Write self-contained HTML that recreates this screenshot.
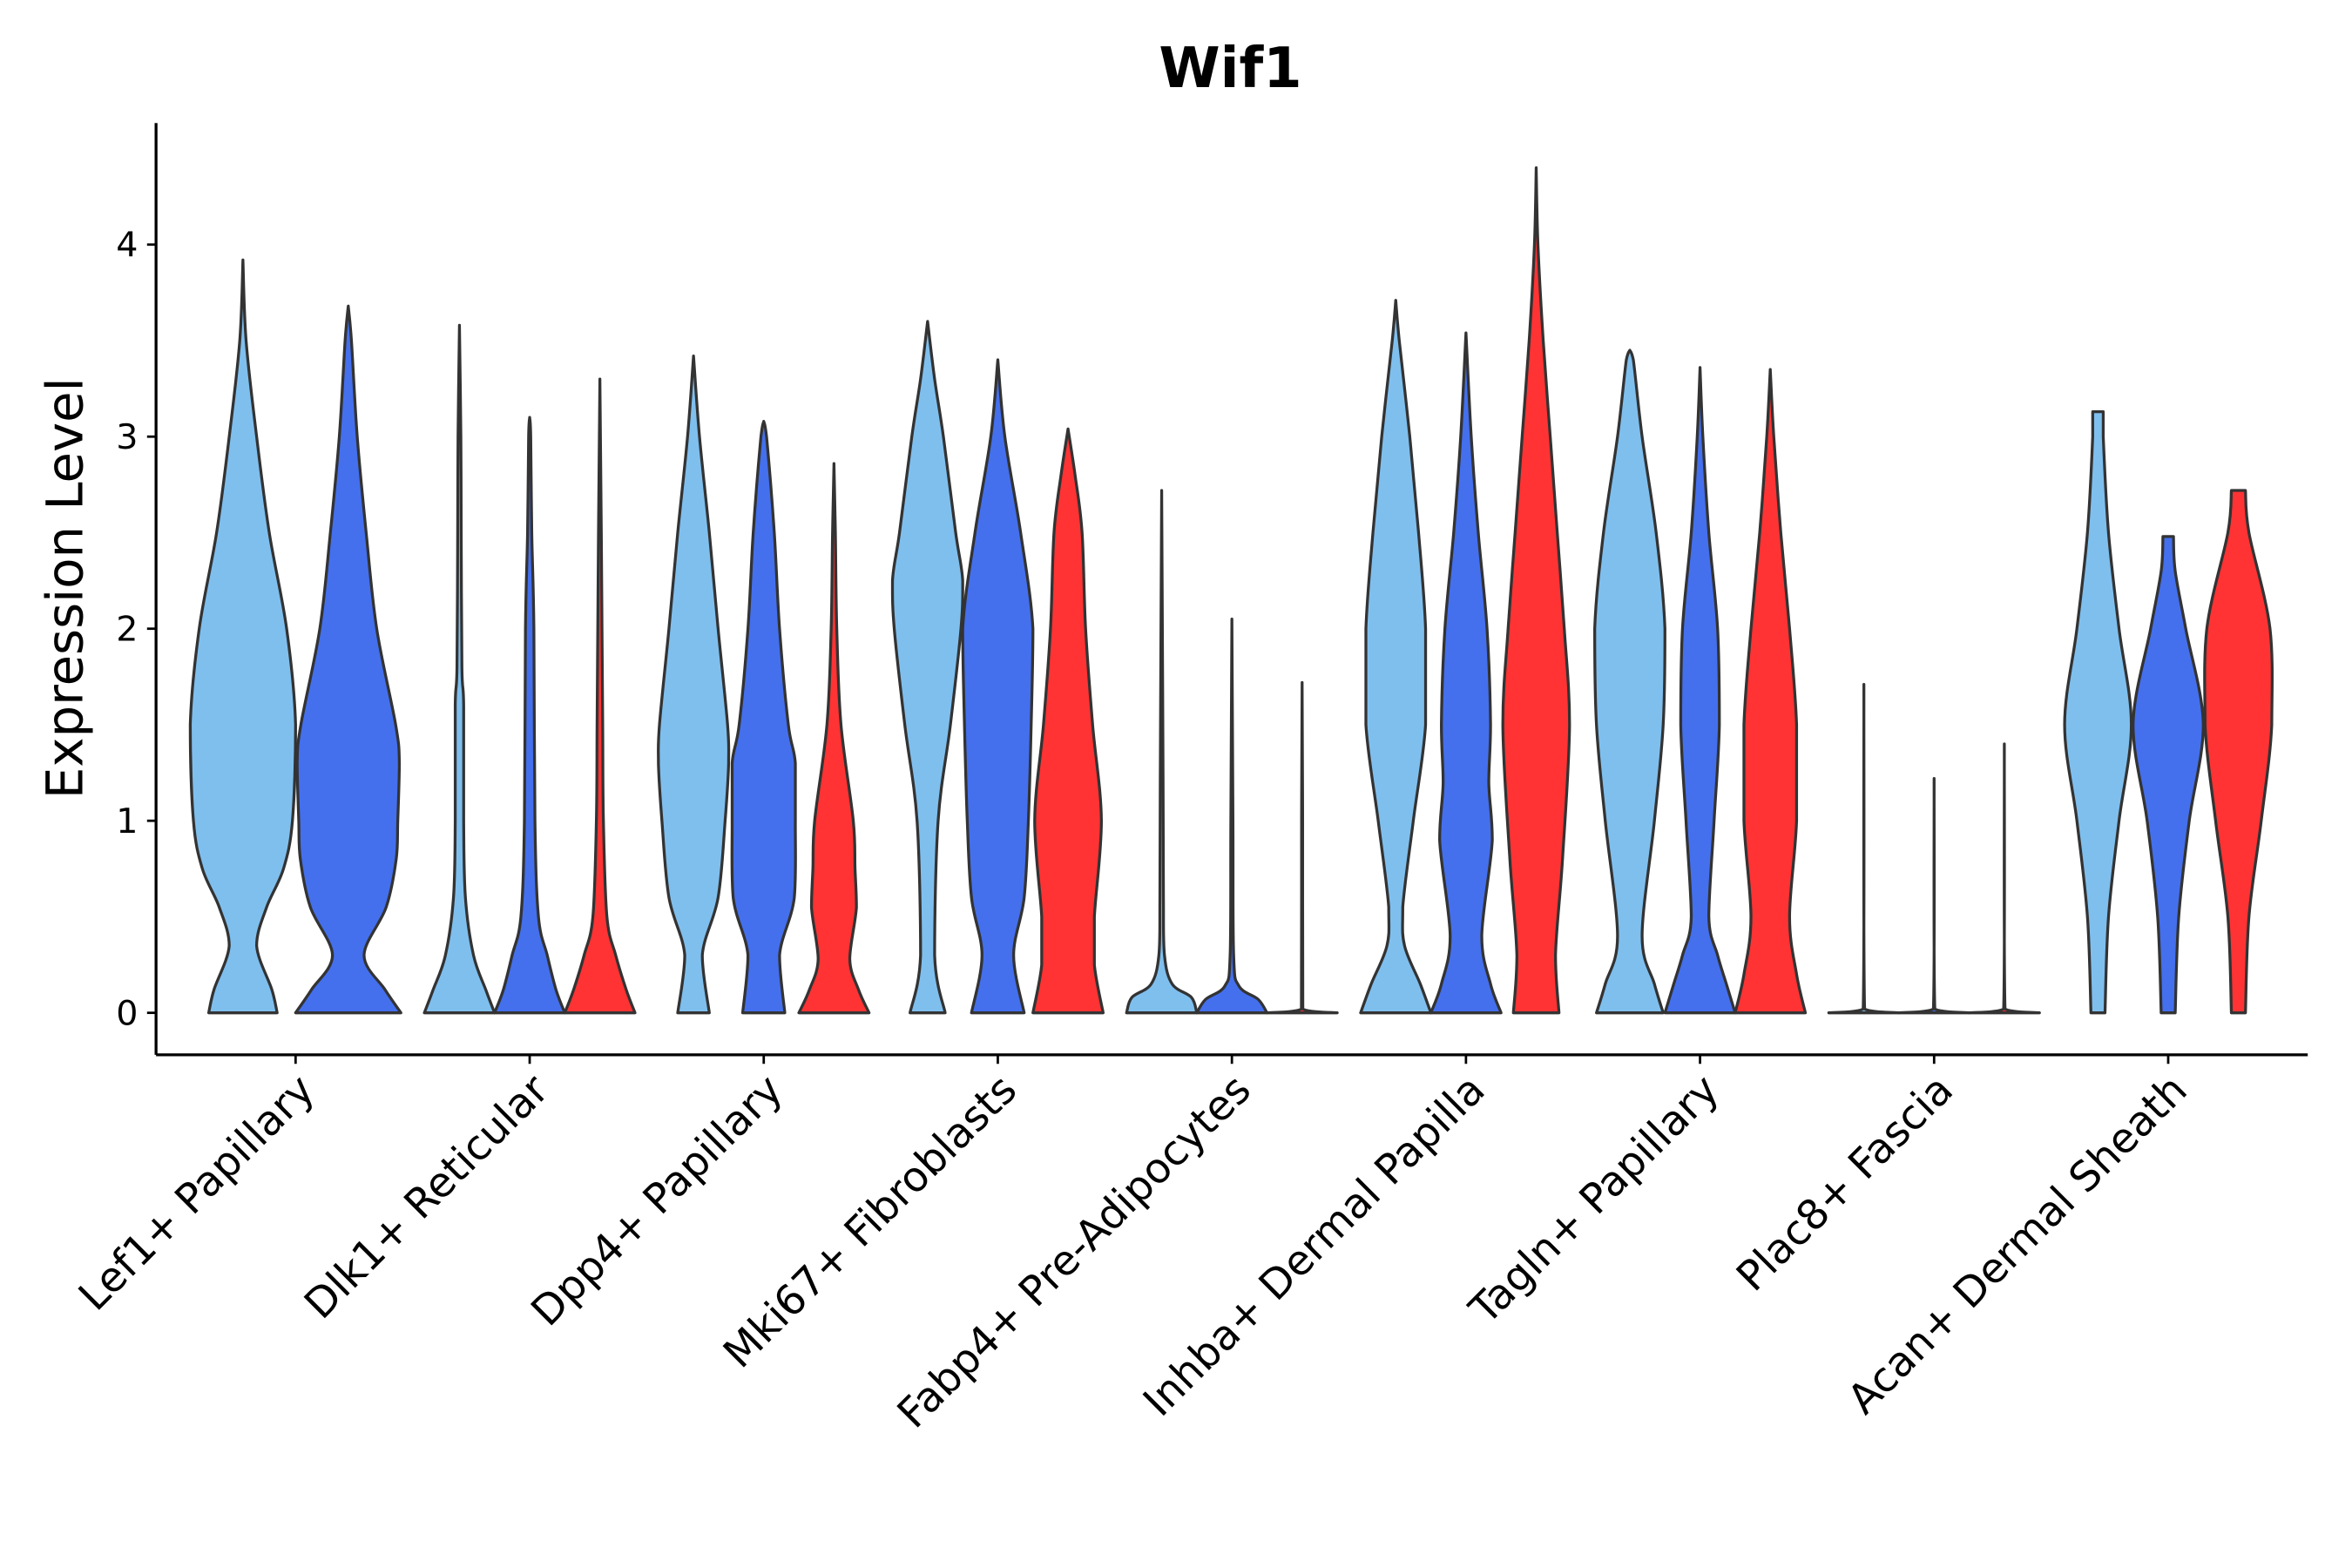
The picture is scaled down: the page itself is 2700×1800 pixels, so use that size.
<!DOCTYPE html>
<html><head><meta charset="utf-8">
<style>
html,body{margin:0;padding:0;background:#fff;}
svg{display:block;}
text{font-family:"DejaVu Sans","Liberation Sans",sans-serif;fill:#000;}
</style></head>
<body>
<svg id="chart" width="2700" height="1800" viewBox="0 0 1567.5 1045" xmlns="http://www.w3.org/2000/svg">
<text x="820" y="58" text-anchor="middle" font-size="37" font-weight="bold">Wif1</text>
<text transform="translate(55,392) rotate(-90)" text-anchor="middle" font-size="33.5">Expression Level</text>
<g id="plot"></g>
</svg>
<script>
const categories = ["Lef1+ Papillary","Dlk1+ Reticular","Dpp4+ Papillary","Mki67+ Fibroblasts","Fabp4+ Pre-Adipocytes","Inhba+ Dermal Papilla","Tagln+ Papillary","Plac8+ Fascia","Acan+ Dermal Sheath"];
const seriesNames = ["light","blue","red"];
const seriesColors = ["#7FBFEE","#4470EE","#FF3333"];
const yTicks = [0,1,2,3,4];
// profiles: [value, relative half-width]
const lef1Light = [[0,0.65],[0.12,0.55],[0.35,0.26],[0.55,0.45],[0.75,0.77],[1,0.94],[1.5,1.0],[2,0.83],[2.5,0.5],[3,0.26],[3.5,0.06],[3.92,0]];
const lef1Blue = [[0,1.0],[0.12,0.7],[0.3,0.3],[0.55,0.72],[0.8,0.91],[1.0,0.94],[1.3,0.97],[1.5,0.9],[2,0.54],[2.5,0.34],[3,0.17],[3.5,0.06],[3.68,0]];
const dlk1Light = [[0,1.0],[0.12,0.75],[0.3,0.4],[0.6,0.17],[1,0.12],[1.6,0.12],[1.8,0.07],[2.5,0.05],[3,0.04],[3.58,0]];
const dlk1Blue = [[0,1.0],[0.12,0.75],[0.3,0.5],[0.5,0.25],[1,0.15],[2,0.12],[2.5,0.06],[3,0.03],[3.1,0]];
const dlk1Red = [[0,1.0],[0.12,0.75],[0.3,0.45],[0.5,0.2],[1,0.1],[1.5,0.08],[2,0.06],[2.5,0.04],[3.3,0]];
const dpp4Light = [[0,0.45],[0.3,0.25],[0.6,0.7],[1,0.9],[1.3,1.0],[1.5,0.97],[2,0.7],[2.5,0.45],[3,0.17],[3.42,0]];
const dpp4Blue = [[0,0.6],[0.3,0.45],[0.6,0.87],[1,0.9],[1.3,0.9],[1.5,0.7],[2,0.45],[2.5,0.3],[3,0.08],[3.08,0]];
const dpp4Red = [[0,1.0],[0.12,0.7],[0.28,0.45],[0.55,0.64],[0.75,0.6],[1,0.55],[1.5,0.2],[2,0.08],[2.5,0.04],[2.86,0]];
const mki67Light = [[0,0.5],[0.3,0.2],[1,0.3],[1.5,0.65],[2,0.95],[2.25,1.0],[2.5,0.8],[3,0.45],[3.3,0.2],[3.6,0]];
const mki67Blue = [[0,0.75],[0.3,0.45],[0.6,0.75],[1,0.87],[1.5,0.95],[2,1.0],[2.5,0.65],[3,0.2],[3.4,0]];
const mki67Red = [[0,1.0],[0.25,0.75],[0.5,0.75],[1,0.95],[1.5,0.7],[2,0.5],[2.5,0.4],[2.8,0.2],[3.04,0]];
const fabp4Light = [[0,1.0],[0.08,0.85],[0.15,0.3],[0.3,0.08],[0.6,0.05],[1.2,0.04],[2,0.02],[2.72,0]];
const fabp4Blue = [[0,1.0],[0.07,0.75],[0.14,0.2],[0.3,0.05],[1,0.03],[2.05,0]];
const fabp4Red = [[0,1.0],[0.02,0.02],[1.0,0.015],[1.72,0]];
const inhbaLight = [[0,1.0],[0.15,0.7],[0.35,0.25],[0.55,0.2],[1,0.5],[1.5,0.85],[2,0.85],[2.5,0.65],[3,0.4],[3.5,0.1],[3.71,0]];
const inhbaBlue = [[0,1.0],[0.15,0.7],[0.4,0.45],[0.9,0.75],[1.2,0.65],[1.5,0.7],[2,0.6],[2.5,0.35],[3,0.15],[3.54,0]];
const inhbaRed = [[0,0.65],[0.3,0.55],[0.8,0.75],[1.5,0.95],[2,0.8],[2.5,0.6],[3,0.4],[3.5,0.2],[4,0.05],[4.4,0]];
const taglnLight = [[0,0.95],[0.15,0.7],[0.4,0.35],[1,0.7],[1.5,0.95],[2,1.0],[2.5,0.75],[3,0.35],[3.4,0.1],[3.45,0]];
const taglnBlue = [[0,1.0],[0.15,0.75],[0.3,0.5],[0.5,0.25],[1,0.4],[1.5,0.55],[2,0.5],[2.5,0.25],[3,0.08],[3.36,0]];
const taglnRed = [[0,1.0],[0.2,0.75],[0.5,0.55],[1,0.75],[1.5,0.75],[2,0.55],[2.5,0.3],[3,0.1],[3.35,0]];
const plac8Light = [[0,1.0],[0.02,0.02],[1.71,0]];
const plac8Blue = [[0,1.0],[0.02,0.02],[1.22,0]];
const plac8Red = [[0,1.0],[0.02,0.02],[1.4,0]];
const acanLight = [[0,0.2],[0.5,0.3],[1,0.6],[1.5,0.95],[2,0.6],[2.5,0.3],[3,0.15],[3.13,0.15]];
const acanBlue = [[0,0.2],[0.5,0.3],[1,0.6],[1.5,1.0],[2,0.5],[2.3,0.2],[2.48,0.15]];
const acanRed = [[0,0.2],[0.5,0.3],[1,0.65],[1.5,0.95],[2,0.9],[2.5,0.3],[2.72,0.2]];
const violins = [
 [lef1Light,lef1Blue],
 [dlk1Light,dlk1Blue,dlk1Red],
 [dpp4Light,dpp4Blue,dpp4Red],
 [mki67Light,mki67Blue,mki67Red],
 [fabp4Light,fabp4Blue,fabp4Red],
 [inhbaLight,inhbaBlue,inhbaRed],
 [taglnLight,taglnBlue,taglnRed],
 [plac8Light,plac8Blue,plac8Red],
 [acanLight,acanBlue,acanRed]
];

const NS="http://www.w3.org/2000/svg";
const plot=document.getElementById('plot');
const X0=104, X1=1538, Y0=82, YB=703, STEP=156, FIRST=197;
function yScale(v){return 675 - v*128;}
function xScale(i){return FIRST + i*STEP;}
function mk(tag,attrs){const e=document.createElementNS(NS,tag);for(const k in attrs)e.setAttribute(k,attrs[k]);return e;}
function clamp(v,a,b){const lo=Math.min(a,b),hi=Math.max(a,b);return Math.max(lo,Math.min(hi,v));}
function crPath(pts){
  let d="";
  for(let i=0;i<pts.length-1;i++){
    const p0=pts[Math.max(i-1,0)],p1=pts[i],p2=pts[i+1],p3=pts[Math.min(i+2,pts.length-1)];
    let c1=[p1[0]+(p2[0]-p0[0])/6,p1[1]+(p2[1]-p0[1])/6];
    let c2=[p2[0]-(p3[0]-p1[0])/6,p2[1]-(p3[1]-p1[1])/6];
    c1=[clamp(c1[0],p1[0],p2[0]+(p2[0]-p1[0])),clamp(c1[1],p1[1],p2[1])];
    c2=[clamp(c2[0],p2[0],p1[0]+(p1[0]-p2[0])),clamp(c2[1],p1[1],p2[1])];
    d+=` C${c1[0].toFixed(2)},${c1[1].toFixed(2)} ${c2[0].toFixed(2)},${c2[1].toFixed(2)} ${p2[0].toFixed(2)},${p2[1].toFixed(2)}`;
  }
  return d;
}
violins.forEach((group,ci)=>{
  const n=group.length;
  const w=STEP*0.9/n;
  const hw=w/2;
  group.forEach((prof,si)=>{
    const cx=xScale(ci)-STEP*0.45+w*(si+0.5);
    const right=prof.map(p=>[cx+p[1]*hw,yScale(p[0])]);
    const left=prof.slice().reverse().map(p=>[cx-p[1]*hw,yScale(p[0])]);
    let d=`M${right[0][0]},${right[0][1]}`+crPath(right)+` L${left[0][0]},${left[0][1]}`+crPath(left)+" Z";
    const path=mk('path',{d:d,fill:seriesColors[si],stroke:'#333333','stroke-width':1.9,'stroke-linejoin':'round'});
    
    
    plot.appendChild(path);
  });
});
const yAxis=mk('line',{x1:X0,y1:Y0,x2:X0,y2:YB,stroke:'#000','stroke-width':1.9});


plot.appendChild(yAxis);
const xAxis=mk('line',{x1:X0,y1:YB,x2:X1,y2:YB,stroke:'#000','stroke-width':1.9});


plot.appendChild(xAxis);
yTicks.forEach(t=>{
  const y=yScale(t);
  const tk=mk('line',{x1:X0-6,y1:y,x2:X0,y2:y,stroke:'#000','stroke-width':1.6});
  
  
  plot.appendChild(tk);
  const lb=mk('text',{x:X0-12,y:y+8,'text-anchor':'end','font-size':23});
  lb.textContent=t;
  
  
  plot.appendChild(lb);
});
categories.forEach((c,i)=>{
  const x=xScale(i);
  const tk=mk('line',{x1:x,y1:YB,x2:x,y2:YB+6,stroke:'#000','stroke-width':1.6});
  
  
  plot.appendChild(tk);
  const lb=mk('text',{transform:`translate(${x+14},${YB+25}) rotate(-45)`,'text-anchor':'end','font-size':27.5});
  lb.textContent=c;
  
  
  plot.appendChild(lb);
});
</script>
</body></html>
